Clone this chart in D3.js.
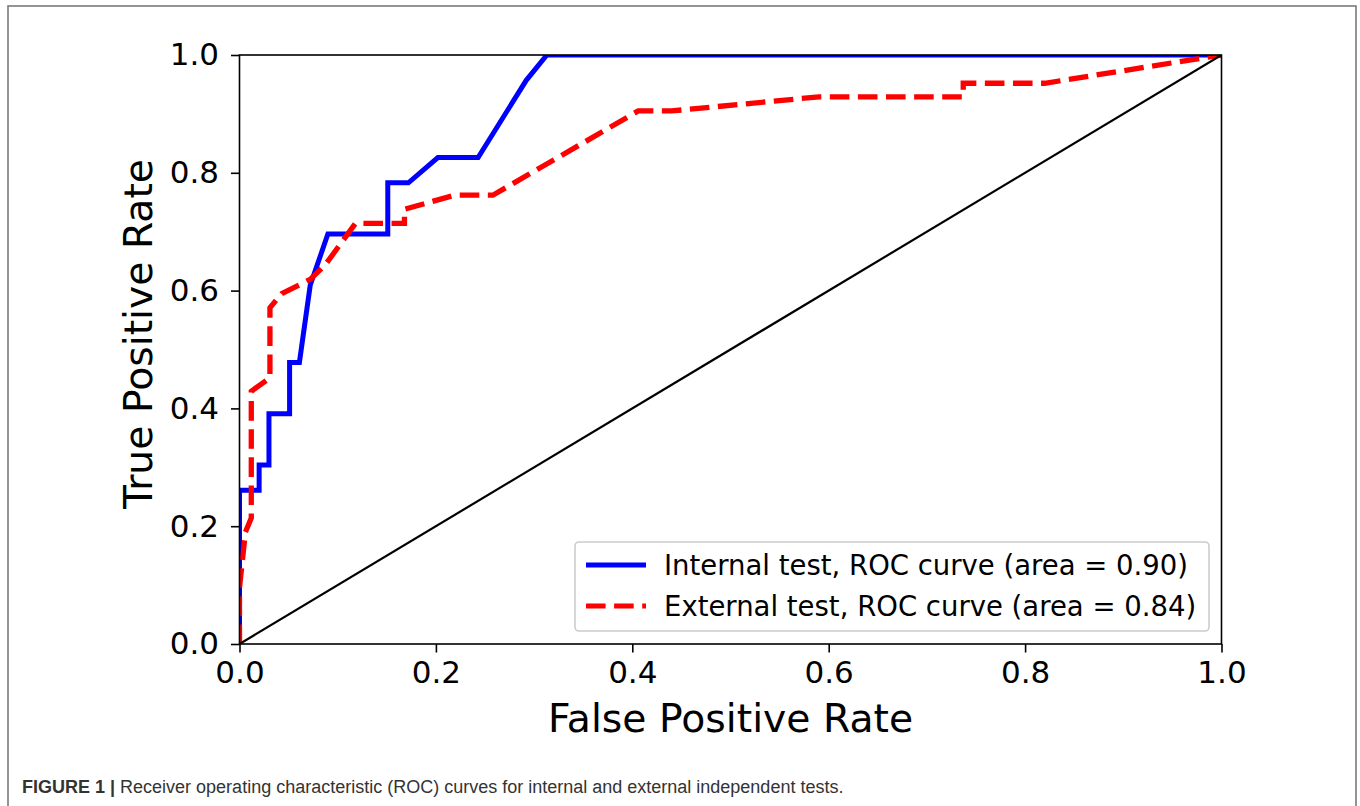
<!DOCTYPE html>
<html>
<head>
<meta charset="utf-8">
<script src="https://cdn.jsdelivr.net/npm/d3@7"></script>
<style>
  body { margin: 0; background: #fff; }
  svg { display: block; }
</style>
</head>
<body>
<svg id="fig" width="1360" height="806"></svg>
<script>
// ROC 数据
const internalFpr = [0, 0, 0.020, 0.020, 0.030, 0.030, 0.051, 0.051, 0.061, 0.072, 0.090, 0.151, 0.151, 0.172, 0.202, 0.243, 0.292, 0.313, 1];
const internalTpr = [0, 0.261, 0.261, 0.304, 0.304, 0.391, 0.391, 0.478, 0.478, 0.609, 0.696, 0.696, 0.783, 0.783, 0.826, 0.826, 0.957, 1, 1];

const externalFpr = [0, 0, 0.006, 0.012, 0.012, 0.031, 0.031, 0.043, 0.072, 0.087, 0.118, 0.168, 0.168, 0.219, 0.258, 0.406, 0.44, 0.59, 0.737, 0.737, 0.82, 1];
const externalTpr = [0, 0.095, 0.190, 0.214, 0.429, 0.452, 0.571, 0.595, 0.619, 0.643, 0.714, 0.714, 0.738, 0.762, 0.762, 0.905, 0.905, 0.929, 0.929, 0.952, 0.952, 1];

const chanceLine = [0, 1];
const tickValues = [0, 0.2, 0.4, 0.6, 0.8, 1.0];
const legendLabels = [
  "Internal test, ROC curve (area = 0.90)",
  "External test, ROC curve (area = 0.84)"
];
const captionBold = "FIGURE 1 |";
const captionText = " Receiver operating characteristic (ROC) curves for internal and external independent tests.";

const svg = d3.select("#fig");

// 外框
svg.append("rect")
  .attr("x", 8).attr("y", 6)
  .attr("width", 1348).attr("height", 820)
  .attr("fill", "none")
  .attr("stroke", "#7a7a7a")
  .attr("stroke-width", 1.6);

// 坐标比例尺
const x = d3.scaleLinear().domain([0, 1]).range([239.5, 1221.5]);
const y = d3.scaleLinear().domain([0, 1]).range([644, 55]);

const g = svg.append("g");

g.append("clipPath").attr("id", "plotClip")
  .append("rect")
  .attr("x", x(0)).attr("y", y(1))
  .attr("width", x(1) - x(0)).attr("height", y(0) - y(1));

const line = d3.line().x(d => x(d[0])).y(d => y(d[1]));

const plot = g.append("g").attr("clip-path", "url(#plotClip)");

// 内部测试曲线
plot.append("path")
  .datum(d3.zip(internalFpr, internalTpr))
  .attr("d", line)
  .attr("fill", "none")
  .attr("stroke", "#0000ff")
  .attr("stroke-width", 5)
  .attr("stroke-linejoin", "miter");

// 外部测试曲线
plot.append("path")
  .datum(d3.zip(externalFpr, externalTpr))
  .attr("d", line)
  .attr("fill", "none")
  .attr("stroke", "#ff0000")
  .attr("stroke-width", 5.3)
  .attr("stroke-dasharray", "19.6,8.5");

// 对角线
plot.append("path")
  .datum(d3.zip(chanceLine, chanceLine))
  .attr("d", line)
  .attr("fill", "none")
  .attr("stroke", "#000")
  .attr("stroke-width", 2.2);

// 坐标轴
const xAxis = d3.axisBottom(x).tickValues(tickValues).tickFormat(d3.format(".1f")).tickSizeOuter(0).tickSize(8.5).tickPadding(7);
const yAxis = d3.axisLeft(y).tickValues(tickValues).tickFormat(d3.format(".1f")).tickSizeOuter(0).tickSize(8.5).tickPadding(12);

const gx = g.append("g").attr("transform", `translate(0,${y(0)})`).call(xAxis);
const gy = g.append("g").attr("transform", `translate(${x(0)},0)`).call(yAxis);

[gx, gy].forEach(a => {
  a.select(".domain").remove();
  a.selectAll(".tick line").attr("stroke", "#000").attr("stroke-width", 1.6);
  a.selectAll(".tick text")
    .attr("fill", "#000")
    .style("font-family", "DejaVu Sans")
    .style("font-size", "31px");
});
gx.selectAll(".tick text").attr("dy", "0.76em");

// 边框
g.append("rect")
  .attr("x", x(0)).attr("y", y(1))
  .attr("width", x(1) - x(0)).attr("height", y(0) - y(1))
  .attr("fill", "none")
  .attr("stroke", "#000")
  .attr("stroke-width", 1.6);

// 轴标题
g.append("text")
  .attr("x", 730.5).attr("y", 732)
  .attr("text-anchor", "middle")
  .style("font-family", "DejaVu Sans").style("font-size", "39.3px")
  .text("False Positive Rate");

g.append("text")
  .attr("transform", "translate(152,334) rotate(-90)")
  .attr("text-anchor", "middle")
  .style("font-family", "DejaVu Sans").style("font-size", "39.3px")
  .text("True Positive Rate");

// 图例
const legend = g.append("g");
legend.append("rect")
  .attr("x", 575).attr("y", 542)
  .attr("width", 634).attr("height", 89)
  .attr("rx", 4)
  .attr("fill", "#fff").attr("fill-opacity", 0.8)
  .attr("stroke", "#cccccc").attr("stroke-width", 1.6);

const legendStyles = [
  { color: "#0000ff", dash: null },
  { color: "#ff0000", dash: "19.6,8.5" }
];

legendLabels.forEach((label, i) => {
  const ly = 565 + i * 41;
  legend.append("line")
    .attr("x1", 586).attr("x2", 646)
    .attr("y1", ly).attr("y2", ly)
    .attr("stroke", legendStyles[i].color)
    .attr("stroke-width", 5)
    .attr("stroke-dasharray", legendStyles[i].dash);
  legend.append("text")
    .attr("x", 664).attr("y", ly)
    .attr("dy", "0.36em")
    .style("font-family", "DejaVu Sans").style("font-size", "27.5px")
    .text(label);
});

// 图注
const caption = svg.append("text")
  .attr("x", 22).attr("y", 793)
  .style("font-family", "Liberation Sans").style("font-size", "18px")
  .attr("fill", "#333");
caption.append("tspan").style("font-weight", "bold").text(captionBold);
caption.append("tspan").text(captionText);
</script>
</body>
</html>
